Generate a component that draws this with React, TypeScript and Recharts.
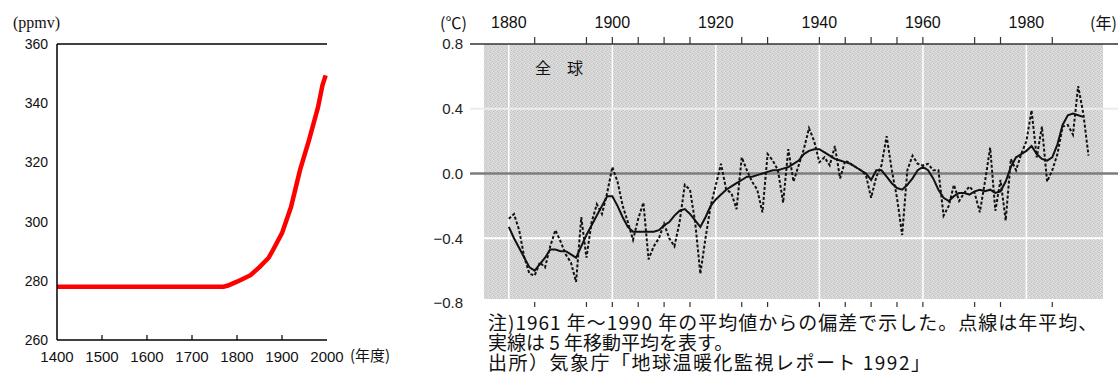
import React from "react";
import {
  LineChart, Line, XAxis, YAxis, ReferenceLine, ReferenceArea,
} from "recharts";

// CO2 concentration (left panel)
const co2Years = [1400, 1500, 1600, 1700, 1750, 1770, 1780, 1800, 1815, 1830, 1850, 1870, 1880, 1900, 1920, 1940, 1960, 1980, 1990, 1997];
const co2Ppmv = [278, 278, 278, 278, 278, 278, 278.4, 279.7, 280.8, 281.9, 284.6, 287.7, 290.4, 296.1, 304.9, 317.4, 327.5, 338.6, 346.1, 349.4];
const co2YTicks = [260, 280, 300, 320, 340, 360];
const co2XTicks = [1400, 1500, 1600, 1700, 1800, 1900, 2000];

// global temperature anomaly (right panel), 1880-1992
const tempStartYear = 1880;
const annualMean = [
  -0.28, -0.25, -0.35, -0.52, -0.62, -0.63, -0.55, -0.58, -0.45, -0.35,
  -0.42, -0.5, -0.55, -0.67, -0.27, -0.52, -0.3, -0.19, -0.25, -0.12,
  0.04, -0.05, -0.2, -0.3, -0.41, -0.28, -0.18, -0.53, -0.45, -0.4,
  -0.31, -0.4, -0.45, -0.3, -0.07, -0.1, -0.3, -0.62, -0.4, -0.2,
  -0.07, 0.06, -0.1, -0.12, -0.22, 0.1, 0.02, -0.05, -0.1, -0.24,
  0.12, 0.08, 0.02, -0.18, 0.15, -0.05, 0.05, 0.15, 0.28, 0.2,
  0.07, 0.1, 0.05, 0.17, -0.03, 0.08, 0.06, 0.04, 0.02, -0.01,
  -0.15, -0.02, 0.05, 0.23, 0.02, -0.15, -0.38, 0.02, 0.11, 0.06,
  0.05, 0.06, 0.02, 0.02, -0.26, -0.2, -0.07, -0.17, -0.12, -0.08,
  -0.12, -0.24, -0.05, 0.16, -0.23, -0.04, -0.29, 0.09, 0.02, 0.12,
  0.2, 0.39, 0.1, 0.29, -0.05, 0.02, 0.12, 0.29, 0.3, 0.24,
  0.54, 0.37, 0.11,
];
const fiveYearMean = [
  -0.33, -0.4, -0.46, -0.52, -0.58, -0.6, -0.56, -0.52, -0.47, -0.47,
  -0.48, -0.48, -0.5, -0.52, -0.45, -0.38, -0.32, -0.26, -0.2, -0.14,
  -0.14, -0.2, -0.27, -0.33, -0.36, -0.36, -0.36, -0.36, -0.36, -0.35,
  -0.32, -0.3, -0.26, -0.23, -0.22, -0.25, -0.29, -0.33, -0.27, -0.2,
  -0.16, -0.13, -0.1, -0.08, -0.06, -0.04, -0.02, -0.02, -0.01, 0.0,
  0.01, 0.02, 0.02, 0.03, 0.04, 0.06, 0.08, 0.12, 0.14, 0.15,
  0.15, 0.13, 0.11, 0.09, 0.08, 0.07, 0.06, 0.04, 0.02, 0.0,
  -0.04, 0.02, 0.02, -0.02, -0.06, -0.09, -0.1, -0.07, -0.03, 0.02,
  0.04, 0.02, -0.03, -0.1, -0.15, -0.17, -0.14, -0.12, -0.12, -0.13,
  -0.11, -0.1, -0.11, -0.1, -0.12, -0.11, -0.05, 0.04, 0.1, 0.12,
  0.14, 0.17, 0.12, 0.09, 0.08, 0.1, 0.18, 0.3, 0.36, 0.37,
  0.36, 0.35,
];
const tempYTicks = [-0.8, -0.4, 0, 0.4, 0.8];
const majorYears = [1880, 1900, 1920, 1940, 1960, 1980];
const minorYears = [1885, 1895, 1900, 1905, 1910, 1915, 1925, 1930, 1940, 1945, 1950, 1955, 1960, 1970, 1975, 1985];

const noteLines = [
  "注)1961 年〜1990 年の平均値からの偏差で示した。点線は年平均、",
  "実線は 5 年移動平均を表す。",
  "出所）気象庁「地球温暖化監視レポート 1992」",
];

const co2Data = co2Years.map((year, i) => ({ year, ppmv: co2Ppmv[i] }));
const tempData = annualMean.map((v, i) => ({
  year: tempStartYear + i,
  annual: v,
  smooth: i < fiveYearMean.length ? fiveYearMean[i] : null,
}));
const tempTicks = Array.from(new Set([...majorYears, ...minorYears])).sort((a, b) => a - b);

const sans = "'Liberation Sans', Arial, sans-serif";
const cjk = "'Noto Sans CJK JP', sans-serif";

const Co2Tick = (props: any) => {
  const { x, y, payload } = props;
  const v = payload.value;
  return (
    <g>
      {v > 1400 && v < 2000 && <line x1={x} x2={x} y1={y} y2={y - 5} stroke="#000" strokeWidth={1.2} />}
      <text x={x} y={y + 22} textAnchor="middle" fontSize={15} fill="#111" fontFamily={sans}>{v}</text>
    </g>
  );
};

const TopTick = (props: any) => {
  const { x, y, payload } = props;
  const v = payload.value;
  return (
    <g>
      {minorYears.includes(v) && <line x1={x} x2={x} y1={y} y2={y - 7} stroke="#333" strokeWidth={1.2} />}
      {majorYears.includes(v) && (
        <text x={x} y={y - 16} textAnchor="middle" fontSize={16} fill="#111" fontFamily={sans}>{v}</text>
      )}
    </g>
  );
};

const BottomTick = (props: any) => {
  const { x, y, payload } = props;
  if (!minorYears.includes(payload.value)) return <g />;
  return <line x1={x} x2={x} y1={y - 1} y2={y + 4} stroke="#333" strokeWidth={1.2} />;
};

const fmtTemp = (v: number) => (v < 0 ? "\u2212" : "") + Math.abs(v).toFixed(1);

export default function App() {
  return (
    <div style={{ position: "relative", width: 1119, height: 376, background: "#fff", overflow: "hidden" }}>
      <style>{`body{margin:0}`}</style>

      {/* left: CO2 */}
      <div style={{ position: "absolute", left: 13, top: 14, fontSize: 16, fontFamily: "'Liberation Serif', serif", color: "#111" }}>
        (ppmv)
      </div>
      <div style={{ position: "absolute", left: 350, top: 346, fontSize: 15, fontFamily: cjk, color: "#111", lineHeight: "18px" }}>
        (年度)
      </div>
      <div style={{ position: "absolute", left: 0, top: 0 }}>
        <LineChart width={380} height={376} data={co2Data} margin={{ top: 44, right: 53, left: 0, bottom: 0 }}>
          <XAxis
            dataKey="year" type="number" domain={[1400, 2000]} ticks={co2XTicks} interval={0}
            height={36} tickSize={0} tickMargin={0} tickLine={false} tick={Co2Tick}
            axisLine={{ stroke: "#000", strokeWidth: 1.5 }}
          />
          <YAxis
            type="number" domain={[260, 360]} ticks={co2YTicks} interval={0} width={57}
            tickLine={false} tickSize={0} tickMargin={9}
            axisLine={{ stroke: "#000", strokeWidth: 1.5 }}
            tick={{ fontSize: 14, fill: "#111", fontFamily: sans }}
          />
          <ReferenceLine y={360} stroke="#000" strokeWidth={1.5} />
          <Line type="linear" dataKey="ppmv" stroke="#ff0000" strokeWidth={4.5} dot={false} isAnimationActive={false} />
        </LineChart>
      </div>

      {/* right: temperature anomaly */}
      <div style={{ position: "absolute", left: 440, top: 13, fontSize: 16, fontFamily: cjk, color: "#111", lineHeight: "18px" }}>
        (℃)
      </div>
      <div style={{ position: "absolute", left: 1090, top: 13, fontSize: 16, fontFamily: cjk, color: "#111", lineHeight: "18px" }}>
        (年)
      </div>
      <div style={{ position: "absolute", left: 410, top: 0 }}>
        <LineChart width={709} height={376} data={tempData} margin={{ top: 0, right: 1, left: 0, bottom: 53 }}>
          <defs>
            <pattern id="dither" width="4" height="4" patternUnits="userSpaceOnUse">
              <rect width="4" height="4" fill="#d6d6d6" />
              <rect x="0" y="0" width="1" height="1" fill="#c4c4c4" />
              <rect x="2" y="1" width="1" height="1" fill="#c8c8c8" />
              <rect x="1" y="2" width="1" height="1" fill="#c6c6c6" />
              <rect x="3" y="3" width="1" height="1" fill="#c3c3c3" />
              <rect x="3" y="0" width="1" height="1" fill="#e3e3e3" />
              <rect x="1" y="3" width="1" height="1" fill="#e1e1e1" />
              <rect x="2" y="2" width="1" height="1" fill="#e4e4e4" />
            </pattern>
          </defs>
          <XAxis
            xAxisId="t" orientation="top" dataKey="year" type="number" domain={[1872.5, 1997.7]}
            ticks={tempTicks} interval={0} height={44} tickSize={0} tickMargin={0} tickLine={false}
            tick={TopTick} axisLine={{ stroke: "#333", strokeWidth: 1.5 }}
          />
          <XAxis
            xAxisId="b" orientation="bottom" dataKey="year" type="number" domain={[1872.5, 1997.7]}
            ticks={minorYears} interval={0} height={20} tickSize={0} tickMargin={0} tickLine={false}
            tick={BottomTick} axisLine={false}
          />
          <YAxis
            type="number" domain={[-0.8, 0.8]} ticks={tempYTicks} interval={0} width={60}
            tickLine={false} axisLine={false} tickSize={0} tickMargin={7} tickFormatter={fmtTemp}
            tick={{ fontSize: 15, fill: "#222", fontFamily: sans }}
          />
          <ReferenceArea xAxisId="t" x1={1875.2} x2={1994.8} y1={-0.775} y2={0.8} fill="url(#dither)" fillOpacity={1} stroke="none" />
          {majorYears.map((yr) => (
            <ReferenceLine key={yr} xAxisId="t" x={yr} stroke="#fff" strokeWidth={1.5} />
          ))}
          <ReferenceLine xAxisId="t" y={0.4} stroke="#ececec" strokeWidth={2} />
          <ReferenceLine xAxisId="t" y={-0.4} stroke="#fff" strokeWidth={2} />
          <ReferenceLine xAxisId="t" y={0} stroke="#7d7d7d" strokeWidth={2.5} />
          <Line xAxisId="t" type="linear" dataKey="annual" stroke="#111" strokeWidth={2} strokeDasharray="3 2" dot={false} isAnimationActive={false} />
          <Line xAxisId="t" type="linear" dataKey="smooth" stroke="#111" strokeWidth={2} dot={false} isAnimationActive={false} />
        </LineChart>
      </div>
      <div style={{ position: "absolute", left: 535, top: 58, fontSize: 16, fontFamily: cjk, color: "#111", lineHeight: "18px" }}>
        全　球
      </div>

      {/* notes */}
      <div style={{ position: "absolute", left: 488, top: 312, fontSize: 19, fontFamily: cjk, color: "#111", lineHeight: "20px", whiteSpace: "nowrap" }}>
        <div style={{ letterSpacing: 1 }}>{noteLines[0]}</div>
        <div>{noteLines[1]}</div>
        <div style={{ letterSpacing: 1.5 }}>{noteLines[2]}</div>
      </div>
    </div>
  );
}
